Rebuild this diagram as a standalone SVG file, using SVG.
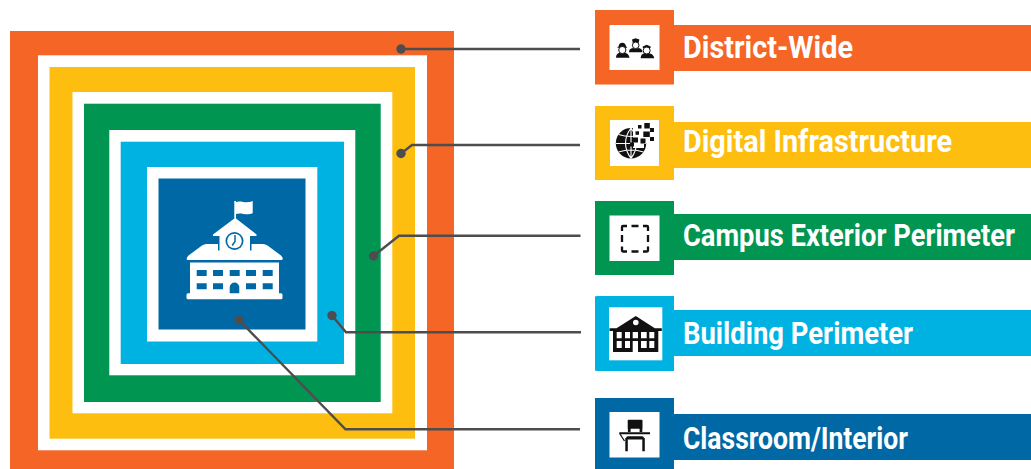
<svg xmlns="http://www.w3.org/2000/svg" width="1031" height="469" viewBox="0 0 1031 469">
<style>
.o{fill:#f56526}.y{fill:#febe10}.g{fill:#009651}.b{fill:#00b2e2}.d{fill:#0069a5}.w{fill:#fff}.k{fill:#111}
.t{font-family:Roboto,"Liberation Sans",sans-serif;font-weight:700;font-size:32px;fill:#fff}
.c{fill:none;stroke:#4d4d4f;stroke-width:2.400}
.dot{fill:#4d4d4f}
</style>
<g id="rings">
<rect class="o" x="10" y="31" width="444" height="438"/>
<rect class="w" x="38" y="55.300" width="389" height="395"/>
<rect class="y" x="49.500" y="67" width="365.500" height="371.700"/>
<rect class="w" x="72.500" y="92" width="319.800" height="321.300"/>
<rect class="g" x="84" y="103.700" width="296.700" height="298.300"/>
<rect class="w" x="109.300" y="130" width="246" height="245.300"/>
<rect class="b" x="120.700" y="141.700" width="223.300" height="222.300"/>
<rect class="w" x="147" y="167" width="170.300" height="174.500"/>
<rect class="d" x="158.500" y="178.500" width="147" height="151"/>
</g>
<g id="school" class="w">
<path d="M234.300 201H236V202C241 200 246 204 252.700 201V213.300C246 215.800 241 212 236 214V218.500L256.500 234.500Q257 236 255.500 236H250V244H263Q265.500 244 267.500 245.500L281 255.500Q284 258.500 282 260H187.300Q185.500 258.500 188.500 255.500L202 245.500Q204 244 206.500 244H219.500V236H214Q212.500 236 213 234.500L234.300 218.500Z"/>
<path d="M218 244h1.500v6.500h-1.500zM250 244h1.500v6.500h-1.500z" fill="#0069a5"/>
<path fill-rule="evenodd" d="M190 262.500h89v30.800h2q1.500 0 1.500 1.500v3q0 1.500-1.500 1.500h-93q-1.500 0-1.500-1.500v-3q0-1.500 1.500-1.500h2zM196.700 270v6h10v-6zM213 270v6h10v-6zM229.700 270v6h10v-6zM246 270v6h10v-6zM262.700 270v6h10v-6zM196.700 283.300v6h10v-6zM213 283.300v6h10v-6zM246 283.300v6h10v-6zM262.700 283.300v6h10v-6zM229.700 293.300h9.600v-6a4.800 4.800 0 0 0-9.600 0z"/>
<circle cx="234.500" cy="241" r="9" fill="#0069a5"/>
<circle cx="234.500" cy="241" r="7.300" fill="#fff"/>
<path d="M235 235v6.500l-2.800 4" fill="none" stroke="#0069a5" stroke-width="1.500"/>
</g>
<g id="connectors">
<path class="c" d="M401 49H580"/>
<path class="c" d="M401 153.500L412 145H580"/>
<path class="c" d="M373.500 256L399 235.700H580.500"/>
<path class="c" d="M332 315.500L346 332.300H581"/>
<path class="c" d="M239 320L345.500 429.300H580"/>
<circle class="dot" cx="401" cy="49" r="4.700"/>
<circle class="dot" cx="401" cy="153.500" r="4.700"/>
<circle class="dot" cx="373.500" cy="256" r="4.700"/>
<circle class="dot" cx="332" cy="315.500" r="4.700"/>
<circle class="dot" cx="239" cy="320" r="4.700"/>
</g>
<g id="district-wide">
<rect class="o" x="595" y="10" width="79" height="74.500"/>
<rect class="o" x="674" y="25" width="357" height="46"/>
<rect class="w" x="609.500" y="25" width="50" height="45"/>
<g class="k">
<path d="M618.500 46.700q.5-4 3.800-4t3.800 4h1v1.100h-9.600v-1.100zM616 57.700q0-4.400 4-4.900q2.300 1.500 4.600 0q4 .5 5 4.900z"/>
<circle cx="622.300" cy="50" r="3.600" fill="#fff" stroke="#111" stroke-width="1"/>
<path d="M632 39.500l3.700-1.200 3.700 1.200-.8 3.500h-5.800zM629 52.300q0-3.800 4-4.200q2.700 1.500 5.400 0q4 .4 4 4.200z"/>
<circle cx="635.700" cy="45.300" r="3.300" fill="#fff" stroke="#111" stroke-width="1"/>
<path d="M642.800 46.500l3.900-1.800 3.900 1.800v1.500h-7.800zM640.700 58.300q0-4.500 4-5q2.200 1.500 4.400 0q4.200 .5 5.200 5z"/>
<circle cx="646.700" cy="50.500" r="3.500" fill="#fff" stroke="#111" stroke-width="1"/>
</g>
<text class="t" transform="translate(683 57.700) scale(.87 1)" textLength="195.400" lengthAdjust="spacingAndGlyphs">District-Wide</text>
</g>
<g id="digital-infrastructure">
<rect class="y" x="595" y="106" width="79" height="74"/>
<rect class="y" x="674" y="122" width="357" height="46"/>
<rect class="w" x="610" y="120" width="49" height="46"/>
<g class="k">
<circle cx="631" cy="143.300" r="15.200"/>
<path d="M631 128v30.500M616 143.500h30M618.500 134.500q12.500 4 25 0M618.500 152q12.500-4 25 0M631 128q-11 15 0 30.500M631 128q11 15 0 30.500" fill="none" stroke="#fff" stroke-width="1.100"/>
<path class="w" d="M633 124h21v19h-10v5h-11z"/>
<rect x="644.300" y="123" width="5.500" height="5.500"/><rect x="638" y="125" width="3.500" height="3.500"/><rect x="635.500" y="131.300" width="3.500" height="3.500"/><rect x="643.300" y="131.500" width="6.500" height="5.500"/><rect x="650" y="128" width="4" height="4"/><rect x="650" y="137" width="4" height="4"/><rect x="640.500" y="138.500" width="5" height="5"/><rect x="633" y="137.500" width="5" height="5"/><rect x="630" y="142.500" width="4" height="4"/>
</g>
<text class="t" transform="translate(683 152) scale(.87 1)" textLength="309.200" lengthAdjust="spacingAndGlyphs">Digital Infrastructure</text>
</g>
<g id="campus-exterior-perimeter">
<rect class="g" x="595" y="201" width="79" height="74"/>
<rect class="g" x="674" y="214" width="357" height="46"/>
<rect class="w" x="609.500" y="215.500" width="50" height="45.500"/>
<path d="M622 231v-4q0-1 1-1h4M631.500 226h7M643 226h4q1 0 1 1v4M648 235v7M648 246.500v4q0 1-1 1h-4M638.500 251.500h-7M627 251.500h-4q-1 0-1-1v-4M622 242v-7" fill="none" stroke="#111" stroke-width="2.300"/>
<text class="t" transform="translate(683 245.700) scale(.87 1)" textLength="381.600" lengthAdjust="spacingAndGlyphs">Campus Exterior Perimeter</text>
</g>
<g id="building-perimeter">
<path class="b" d="M597 296h77v75h-77l-2-.5v-74z"/>
<rect class="b" x="674" y="310" width="357" height="46"/>
<rect class="w" x="609" y="307.300" width="53.300" height="53"/>
<g class="k">
<path d="M635.800 316l19 12.300h7v2.700h-3.500v21h-45.300v-21h-3.500v-2.700h7z"/>
<circle cx="635.800" cy="322.500" r="2.800" fill="#fff"/>
<path class="w" d="M616.700 332h5v6.300h-5zM625 332h5v6.300h-5zM632.700 332h5.300v6.300h-5.300zM641 332h5.700v6.300h-5.700zM649.300 332h5v6.300h-5zM616.700 341h5v7h-5zM625 341h5v7h-5zM641 341h5.700v7h-5.700zM649.300 341h5v7h-5zM632.700 341h5.300v11h-5.300z"/>
</g>
<text class="t" transform="translate(683 344) scale(.87 1)" textLength="264.400" lengthAdjust="spacingAndGlyphs">Building Perimeter</text>
</g>
<g id="classroom-interior">
<rect class="d" x="595" y="398" width="79" height="71"/>
<rect class="d" x="674" y="414" width="357" height="46"/>
<rect class="w" x="609.500" y="412" width="50" height="45.500"/>
<g class="k">
<path d="M628.500 419.700h13q1 0 1 1v8h-.2v3.300h-2.700v-3.300h-9v3.300h-2.700v-3.300h-.2v-8q0-1 .8-1zM619.300 432.300h30.700v2h-30.700zM628 436.300h14q2 0 2 2v2.500q-1-1.300-2-1.300h-14q-1 0-2 1.300v-2.500q0-2 2-2zM625.300 438h2.500v13.300h-2.500zM642.300 438h2.500v13.300h-2.500z"/>
<path d="M620 434l4.500 7" fill="none" stroke="#111" stroke-width="1.300"/>
</g>
<text class="t" transform="translate(683 449) scale(.87 1)" textLength="258.600" lengthAdjust="spacingAndGlyphs">Classroom/Interior</text>
</g>
</svg>
